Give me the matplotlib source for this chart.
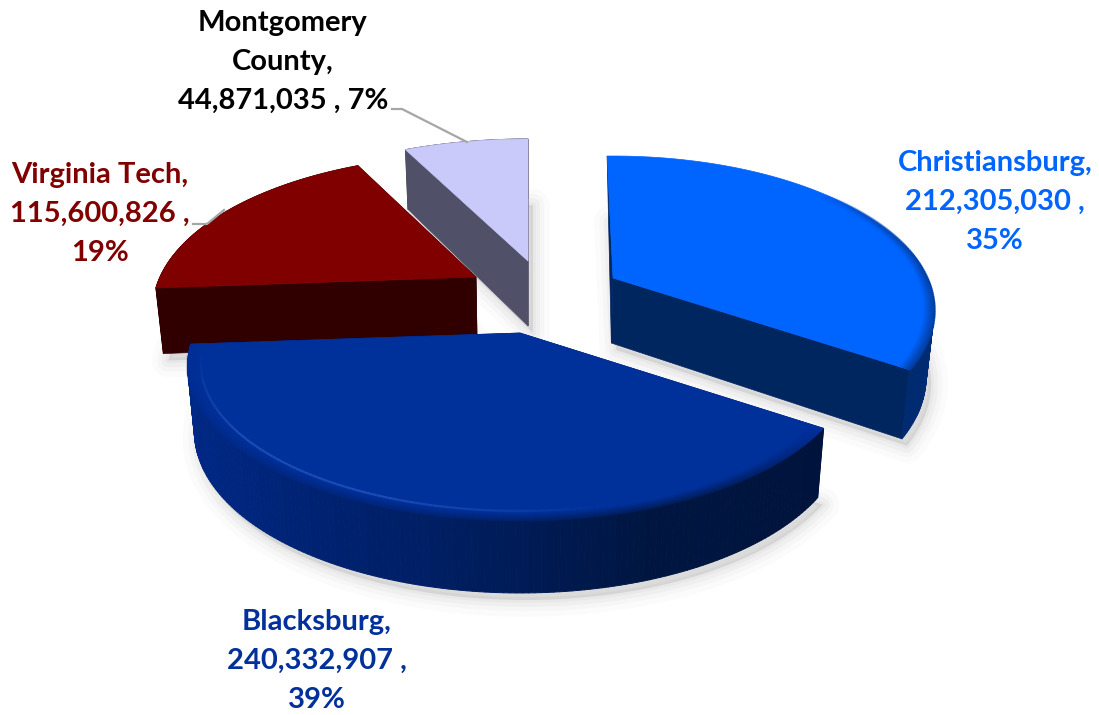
import numpy as np
import matplotlib
matplotlib.use('Agg')
import matplotlib.pyplot as plt
from matplotlib.collections import LineCollection, PolyCollection
from matplotlib.colors import to_rgb

names = ['Christiansburg', 'Blacksburg', 'Virginia Tech', 'Montgomery County']
values = [212305030, 240332907, 115600826, 44871035]
top_colors = ['#0064ff', '#00309a', '#800000', '#c9c9fa']
cut_colors = ['#00265f', '#00206a', '#300000', '#505068']
text_colors = ['#0064ff', '#00309a', '#800000', '#000000']
# outer wall colours from the slice start to its end
wall_colors = [['#003c96', '#002a70'],
               ['#00133c', '#001640', '#001f66', '#00267f', '#002a88'],
               ['#300000', '#300000'],
               ['#505068', '#505068']]

apex_x = [613, 520, 476, 528]
apex_y = [278, 333, 277, 261]
radius = [314, 325, 316, 328]
turn = [-1.3, 0, 0, 0]
# angle where the rounded rim on the top face begins, in degrees
bevel_from = [50, 125, None, None]

TILT = 147.6
PERSP = 0.21
DEPTH = 65

plt.rcParams['font.family'] = ['Lato', 'DejaVu Sans']

fig = plt.figure(figsize=(10.99, 7.15), dpi=100)
ax = fig.add_axes([0, 0, 1, 1])
ax.set_xlim(0, 1099)
ax.set_ylim(715, 0)
ax.axis('off')


def top_point(theta, r, scale=1.0):
    # theta in radians, clockwise from the back of the pie
    w = 1 + PERSP * np.cos(theta) * scale
    return (r * scale * np.sin(theta) / w,
            -TILT * scale * np.cos(theta) / w)


def drop(x, y, theta=None):
    # move a top point to the bottom face of the slab
    if theta is None:
        d = DEPTH
    else:
        d = DEPTH / np.sqrt(1 + PERSP * np.cos(theta))
    return 530 + (x - 530) * 0.98, y + d


def mix(a, b, t):
    a, b = np.array(to_rgb(a)), np.array(to_rgb(b))
    return a + (b - a) * t


fractions = np.array(values) / sum(values)
edges = np.concatenate([[0], np.cumsum(fractions)]) * 2 * np.pi
slices = []
for i in range(len(values)):
    th = np.linspace(edges[i], edges[i + 1], 160) + np.radians(turn[i])
    rx, ry = top_point(th, radius[i])
    slices.append((th, apex_x[i] + rx, apex_y[i] + ry))

# soft shadow under the whole slab
for lw, a in zip([24, 16, 10, 4], [0.03, 0.04, 0.05, 0.06]):
    for i, (th, x, y) in enumerate(slices):
        bx, by = drop(x, y, th)
        ax_, ay_ = drop(apex_x[i], apex_y[i])
        sx = np.concatenate([bx, [ax_]]) + 5
        sy = np.concatenate([by, [ay_]]) + 7
        ax.fill(sx, sy, color='#808080', alpha=a, lw=lw, joinstyle='round', zorder=1)

# back slices first so the front slab overlaps them
for i, z in zip([3, 2, 0, 1], [10, 20, 30, 40]):
    th, x, y = slices[i]
    bx, by = drop(x, y, th)
    cx, cy = apex_x[i], apex_y[i]
    dx, dy = drop(cx, cy)

    # cut faces at both ends of the slice
    if i == 0:
        # only a thin sliver of this face shows along the left side
        ax.fill([cx, x[0], dx], [cy, y[0], dy], color=cut_colors[i], lw=0.5, zorder=z)
    else:
        ax.fill([cx, x[0], bx[0], dx], [cy, y[0], by[0], dy], color=cut_colors[i],
                lw=0.5, zorder=z)
    ax.fill([cx, x[-1], bx[-1], dx], [cy, y[-1], by[-1], dy], color=cut_colors[i],
            lw=0.5, zorder=z)

    # outer wall, in thin strips so the shade can change along the rim
    stops = wall_colors[i]
    pos = np.linspace(0, 1, len(stops))
    quads, cols = [], []
    for k in range(len(th) - 1):
        if i == 0 and th[k] < np.radians(80):
            t = 0
        else:
            quads.append([(x[k], y[k]), (x[k + 1], y[k + 1]),
                          (bx[k + 1], by[k + 1]), (bx[k], by[k])])
        t = k / (len(th) - 2)
        cols.append([np.interp(t, pos, [to_rgb(c)[n] for c in stops]) for n in range(3)])
    ax.add_collection(PolyCollection(quads, facecolors=cols[-len(quads):],
                                     edgecolors=cols[-len(quads):],
                                     linewidths=0.7, zorder=z + 1))

    # top face
    ax.fill(np.concatenate([[cx], x]), np.concatenate([[cy], y]), color=top_colors[i],
            lw=0.5, joinstyle='round', zorder=z + 2)

    if bevel_from[i] is not None:
        # rim darkens into the wall, only on the part facing the viewer
        start = np.radians(bevel_from[i])
        ramp = np.clip((th - start) / np.radians(30), 0, 1)
        if i == 1:
            ramp = ramp * np.clip((np.radians(268) - th) / np.radians(50), 0, 1)
        for s, m in zip(np.linspace(1.0, 0.965, 7), np.linspace(0.0, 1.0, 7)):
            rx, ry = top_point(th, radius[i], s)
            px, py = cx + rx, cy + ry
            segs = [[(px[k], py[k]), (px[k + 1], py[k + 1])] for k in range(len(th) - 1)]
            seg_cols = [(*mix(cols[k], top_colors[i], m * 0.7 + 0.3), ramp[k])
                        for k in range(len(th) - 1)]
            ax.add_collection(LineCollection(segs, colors=seg_cols, linewidths=2.2,
                                             zorder=z + 3))
        if i == 1:
            # light line just inside the rim
            rx, ry = top_point(th, radius[i], 0.962)
            px, py = cx + rx, cy + ry
            glow = np.clip((th - np.radians(165)) / np.radians(35), 0, 1) * \
                np.clip((np.radians(262) - th) / np.radians(30), 0, 1)
            segs = [[(px[k], py[k]), (px[k + 1], py[k + 1])] for k in range(len(th) - 1)]
            seg_cols = [(*to_rgb('#1a4cb4'), glow[k]) for k in range(len(th) - 1)]
            ax.add_collection(LineCollection(segs, colors=seg_cols, linewidths=1.6,
                                             zorder=z + 4))

# leader lines
ax.plot([392, 402, 467], [109, 109, 142], color='#a6a6a6', lw=1.6, zorder=50)
ax.plot([193, 207, 224], [224, 224, 210], color='#a6a6a6', lw=1.6, zorder=50)

# data labels
name_lines = ['Christiansburg,', 'Blacksburg,', 'Virginia Tech,', 'Montgomery\nCounty,']
label_x = [995, 317, 100, 283]
label_y = [202, 661, 214, 62]
for i in range(len(values)):
    pct = round(fractions[i] * 100)
    if i == 3:
        tail = f'{values[i]:,} , {pct}%'
    else:
        tail = f'{values[i]:,} ,\n{pct}%'
    ax.text(label_x[i], label_y[i], f'{name_lines[i]}\n{tail}', color=text_colors[i],
            ha='center', va='center', ma='center', fontsize=21, fontweight='bold',
            linespacing=1.62, zorder=60)

fig.savefig('out.png', dpi=100)
